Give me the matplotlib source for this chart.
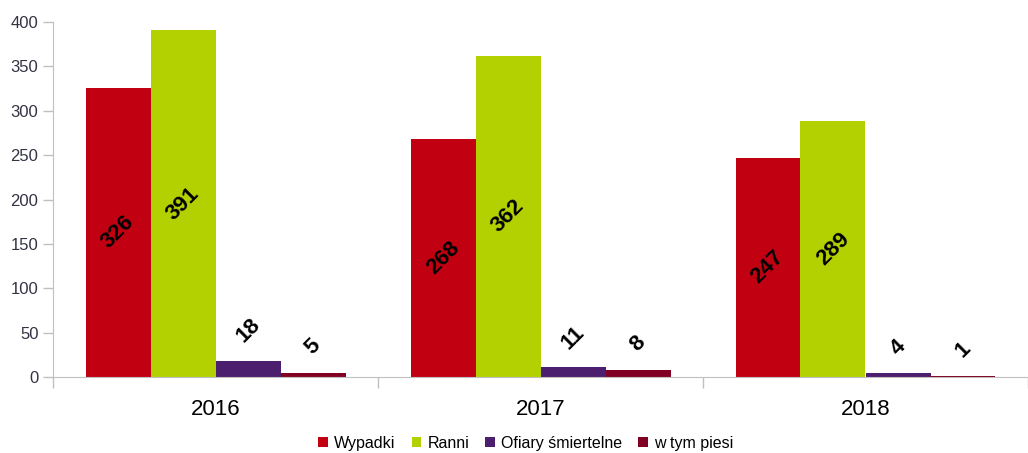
import numpy as np
import matplotlib
matplotlib.use('Agg')
from matplotlib import pyplot as plt

# dane
years = ['2016', '2017', '2018']
series = ['Wypadki', 'Ranni', 'Ofiary śmiertelne', 'w tym piesi']
wypadki = [326, 268, 247]
ranni = [391, 362, 289]
ofiary = [18, 11, 4]
piesi = [5, 8, 1]
colors = ['#C10012', '#B3D100', '#4C1F6E', '#820024']

plt.rcParams['font.family'] = ['Liberation Sans', 'DejaVu Sans']

fig = plt.figure(figsize=(10.28, 4.53), dpi=100)
ax = fig.add_axes([53 / 1028, 76 / 453, 975 / 1028, 355 / 453])

x = np.arange(len(years))
w = 0.2
values = [wypadki, ranni, ofiary, piesi]
for i, (name, vals, c) in enumerate(zip(series, values, colors)):
    pos = x + (i - 1.5) * w
    ax.bar(pos, vals, w, color=c, label=name, zorder=2)
    for p, v in zip(pos, vals):
        if v > 50:
            ax.text(p, v / 2, str(v), rotation=45, ha='center', va='center',
                    fontsize=16, fontweight='bold', color='black')
        else:
            # male wartosci - etykieta nad slupkiem
            ax.text(p, v + 16, str(v), rotation=45, ha='center', va='bottom',
                    fontsize=16, fontweight='bold', color='black')

ax.set_ylim(0, 400)
ax.set_xlim(-0.5, -0.5 + 975 / 327.5)
ax.set_yticks(range(0, 401, 50))
ax.tick_params(axis='y', colors='#c0c0c0', labelcolor='#333344', labelsize=12,
               length=7, width=1)
ax.set_xticks(x)
ax.set_xticklabels(years, fontsize=16, color='black')
ax.tick_params(axis='x', length=0, pad=16)
ax.set_xticks([-0.5, 0.5, 1.5, 2.5], minor=True)
ax.tick_params(axis='x', which='minor', length=8, color='#c0c0c0', width=1)

for s in ['top', 'right']:
    ax.spines[s].set_visible(False)
ax.spines['left'].set_color('#c0c0c0')
ax.spines['bottom'].set_color('#c0c0c0')

leg = ax.legend(loc='upper center', bbox_to_anchor=(0.485, -0.125),
                ncol=4, frameon=False, fontsize=11.5, handlelength=0.6,
                handleheight=0.6, handletextpad=0.4, columnspacing=1.0)

plt.savefig('out.png', dpi=100)
